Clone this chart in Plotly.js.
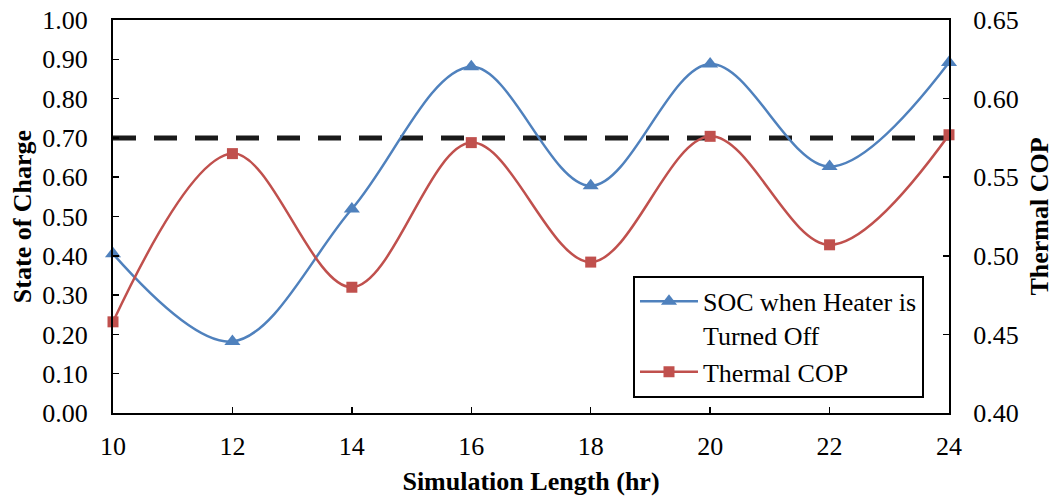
<!DOCTYPE html>
<html>
<head>
<meta charset="utf-8">
<script src="https://cdn.plot.ly/plotly-3.0.1.min.js"></script>
<style>html,body{margin:0;padding:0;background:#fff;}#chart{width:1057px;height:500px;}</style>
</head>
<body>
<div id="chart"></div>
<script>
const hours = [10, 12, 14, 16, 18, 20, 22, 24];
const socHeaterOff = [0.405, 0.182, 0.519, 0.881, 0.578, 0.888, 0.627, 0.892];
const thermalCOP = [0.458, 0.565, 0.480, 0.572, 0.496, 0.576, 0.507, 0.577];
const thresholdX = [10, 24];
const thresholdSOC = [0.70, 0.70];
const xTicks = [10, 12, 14, 16, 18, 20, 22, 24];

const serif = '"Liberation Serif", "Times New Roman", Times, serif';
const fs = 26;

const traces = [
  {
    x: thresholdX, y: thresholdSOC, type: 'scatter', mode: 'lines',
    line: {color: '#1a1a1a', width: 5, dash: '23px,18px'},
    showlegend: false, hoverinfo: 'skip', cliponaxis: false
  },
  {
    x: hours, y: socHeaterOff, type: 'scatter', mode: 'lines+markers',
    name: 'SOC when Heater is<br>Turned Off',
    line: {color: '#4F81BD', width: 2.5, shape: 'spline', smoothing: 1},
    marker: {symbol: 'triangle-up', size: 14, color: '#4F81BD'},
    cliponaxis: false
  },
  {
    x: hours, y: thermalCOP, type: 'scatter', mode: 'lines+markers',
    name: 'Thermal COP', yaxis: 'y2',
    line: {color: '#C0504D', width: 2.5, shape: 'spline', smoothing: 1},
    marker: {symbol: 'square', size: 11, color: '#C0504D'},
    cliponaxis: false
  }
];

const layout = {
  width: 1057, height: 500,
  margin: {l: 113, r: 108, t: 20, b: 87, pad: 0},
  paper_bgcolor: '#fff', plot_bgcolor: '#fff',
  font: {family: serif, size: fs, color: '#000'},
  showlegend: true,
  legend: {
    x: 0.622, y: 0.349, xanchor: 'left', yanchor: 'top',
    bgcolor: '#fff', bordercolor: '#000', borderwidth: 2,
    font: {family: serif, size: fs, color: '#000'},
    tracegroupgap: 0, itemwidth: 58, valign: 'top'
  },
  xaxis: {
    range: [10, 24], tickvals: xTicks, ticktext: xTicks.map(String),
    ticks: 'inside', ticklen: 6, tickwidth: 1.5, tickcolor: '#000',
    showline: true, linecolor: '#000', linewidth: 2, mirror: true,
    showgrid: false, zeroline: false, ticklabelstandoff: 9,
    tickfont: {family: serif, size: fs},
    title: {text: '<b>Simulation Length (hr)</b>', font: {family: serif, size: fs}, standoff: 12}
  },
  yaxis: {
    range: [0, 1], dtick: 0.1, tick0: 0, tickformat: '.2f',
    ticks: 'inside', ticklen: 6, tickwidth: 1.5, tickcolor: '#000',
    showline: true, linecolor: '#000', linewidth: 2,
    showgrid: false, zeroline: false, ticklabelstandoff: 18,
    tickfont: {family: serif, size: fs},
    title: {text: '<b>State of Charge</b>', font: {family: serif, size: fs}, standoff: 3}
  },
  yaxis2: {
    overlaying: 'y', side: 'right',
    range: [0.40, 0.65], dtick: 0.05, tick0: 0.40, tickformat: '.2f',
    ticks: 'inside', ticklen: 6, tickwidth: 1.5, tickcolor: '#000',
    showline: true, linecolor: '#000', linewidth: 2,
    showgrid: false, zeroline: false, ticklabelstandoff: 17,
    tickfont: {family: serif, size: fs},
    title: {text: '<b>Thermal COP</b>', font: {family: serif, size: fs}, standoff: 12}
  }
};

Plotly.newPlot('chart', traces, layout, {displayModeBar: false, staticPlot: true});
</script>
</body>
</html>
